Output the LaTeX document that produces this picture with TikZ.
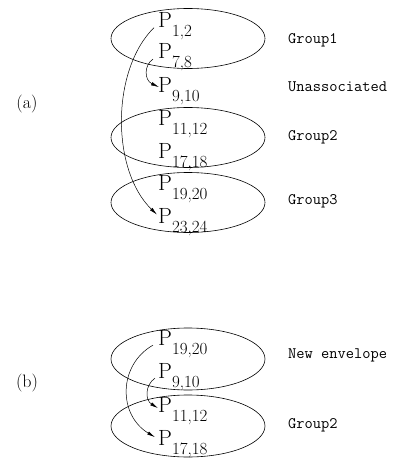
\documentclass[tikz,border=0pt]{standalone}
\usepackage{tikz}
\usetikzlibrary{arrows.meta}
\newcommand{\pidx}[1]{P\raisebox{-9pt}{\fontsize{17}{17}\selectfont #1}}

\begin{document}
\begin{tikzpicture}[x=1pt, y=-1pt,
  env/.style={draw, line width=0.6pt},
  pt/.style={inner sep=0pt, anchor=base west, font=\fontsize{22}{22}\selectfont},
  lbl/.style={inner sep=0pt, anchor=west, font=\ttfamily\fontsize{16}{16}\selectfont},
  part/.style={inner sep=0pt, font=\fontsize{18}{18}\selectfont},
  arr/.style={-{Latex[length=8pt, width=3.5pt]}, line width=0.5pt}]
\useasboundingbox (0,0) rectangle (399,458);
% (a)
\draw[env] (188,38.5) ellipse [x radius=77, y radius=30];
\draw[env] (188,137.5) ellipse [x radius=77, y radius=30];
\draw[env] (188,202.5) ellipse [x radius=77, y radius=30];
\node[part] (a) at (27,104) {(a)};
\node[pt] (p12) at (158,27) {\pidx{1,2}};
\node[pt] (p78) at (158,58) {\pidx{7,8}};
\node[pt] (p910) at (158,92) {\pidx{9,10}};
\node[pt] (p1112) at (158,125) {\pidx{11,12}};
\node[pt] (p1718) at (158,158) {\pidx{17,18}};
\node[pt] (p1920) at (158,190) {\pidx{19,20}};
\node[pt] (p2324) at (158,223) {\pidx{23,24}};
\node[lbl] (g1) at (288,40) {Group1};
\node[lbl] (un) at (288,87) {Unassociated};
\node[lbl] (g2) at (288,137) {Group2};
\node[lbl] (g3) at (288,201) {Group3};
\draw[arr] ([xshift=-4pt,yshift=-2pt]p12.west) .. controls (111,70) and (111,170) .. ([xshift=-1pt,yshift=7pt]p2324.west);
\draw[arr] ([xshift=-5pt,yshift=-2.5pt]p78.west) .. controls (144,65) and (144,80) .. ([xshift=1pt,yshift=3.5pt]p910.west);
% (b)
\draw[env] (188,359) ellipse [x radius=77, y radius=31];
\draw[env] (188,426) ellipse [x radius=77, y radius=31];
\node[part] (b) at (27,383) {(b)};
\node[pt] (q1920) at (158,345) {\pidx{19,20}};
\node[pt] (q910) at (158,378) {\pidx{9,10}};
\node[pt] (q1112) at (158,412) {\pidx{11,12}};
\node[pt] (q1718) at (158,445) {\pidx{17,18}};
\node[lbl] (ne) at (288,355) {New envelope};
\node[lbl] (g2b) at (288,425) {Group2};
\draw[arr] ([xshift=-5pt,yshift=-1.5pt]q1920.west) .. controls (118,365) and (118,415) .. ([xshift=-3pt,yshift=6.5pt]q1718.west);
\draw[arr] ([xshift=-3pt,yshift=-1.5pt]q910.west) .. controls (145,385) and (145,400) .. ([yshift=2.5pt]q1112.west);
\end{tikzpicture}
\end{document}
